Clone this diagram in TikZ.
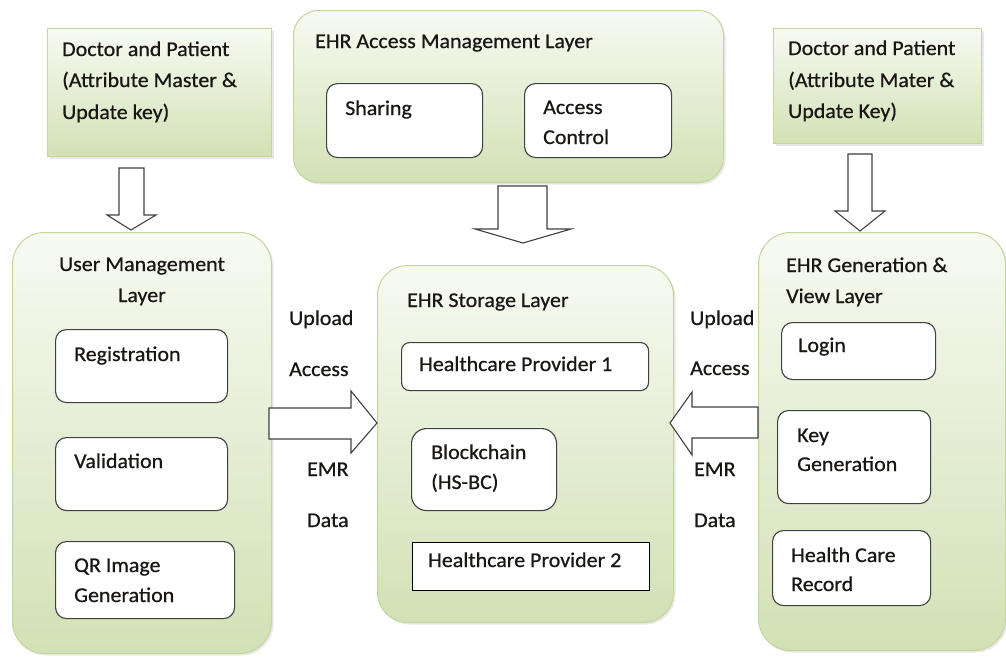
\documentclass[tikz,border=0pt]{standalone}
\usepackage{fontspec}
\setmainfont{Carlito}[FakeStretch=1.045, FakeBold=0.6]
\usetikzlibrary{shadows}
\definecolor{bordergreen}{RGB}{195,214,155}
\definecolor{topgreen}{RGB}{247,250,242}
\definecolor{botgreen}{RGB}{210,225,181}
\definecolor{edgegrey}{RGB}{64,64,64}
\definecolor{txt}{RGB}{25,22,20}
\tikzset{
  layer/.style={draw=bordergreen, line width=1pt, rounded corners=28pt,
    top color=topgreen, bottom color=botgreen, anchor=north west, inner sep=0pt,
    drop shadow={opacity=0.18, shadow xshift=2pt, shadow yshift=-2pt}},
  actor/.style={layer, rounded corners=0pt},
  inbox/.style={draw=edgegrey, fill=white, line width=1.1pt, rounded corners=11pt,
    anchor=north west, inner sep=0pt},
  lbl/.style={anchor=base west, inner sep=0pt, text=txt, font=\fontsize{21}{32}\selectfont},
  lblc/.style={lbl, anchor=base},
  blockarrow/.style={draw=edgegrey, fill=white, line width=1.1pt, line join=miter},
}
\begin{document}
\begin{tikzpicture}[x=1pt,y=-1pt]
\useasboundingbox (0,0) rectangle (1006,656);
\fill[white] (0,0) rectangle (1006,656);

% outer boxes
\node[actor, minimum width=224pt, minimum height=128pt] (dp1) at (47,28) {};
\node[actor, minimum width=208pt, minimum height=115pt] (dp2) at (773,28) {};
\node[layer, rounded corners=25pt, minimum width=430pt, minimum height=172pt] (aml) at (293,10) {};
\node[layer, rounded corners=32pt, minimum width=259pt, minimum height=421pt] (uml) at (12,232) {};
\node[layer, rounded corners=30pt, minimum width=296pt, minimum height=357pt] (sto) at (377,265) {};
\node[layer, rounded corners=32pt, minimum width=247pt, minimum height=418pt] (gen) at (758,232) {};

% inner boxes
\node[inbox, minimum width=156pt, minimum height=74pt] (share) at (326,83) {};
\node[inbox, minimum width=147pt, minimum height=74pt] (acc) at (524,83) {};
\node[inbox, minimum width=172pt, minimum height=73pt] (reg) at (55,329) {};
\node[inbox, minimum width=172pt, minimum height=73pt] (val) at (55,437) {};
\node[inbox, minimum width=179pt, minimum height=77pt] (qr) at (55,541) {};
\node[inbox, rounded corners=8pt, minimum width=247pt, minimum height=48pt] (hp1) at (401,342) {};
\node[inbox, rounded corners=15pt, minimum width=145pt, minimum height=82pt] (bc) at (411,428) {};
\node[inbox, draw=black, rounded corners=0pt, minimum width=237pt, minimum height=48pt] (hp2) at (412,542) {};
\node[inbox, minimum width=154pt, minimum height=57pt] (login) at (781,322) {};
\node[inbox, minimum width=153pt, minimum height=93pt] (keyg) at (777,410) {};
\node[inbox, minimum width=158pt, minimum height=75pt] (hcr) at (772,530) {};

% block arrows
\draw[blockarrow] (119,168) -- (144,168) -- (144,215) -- (156,215) -- (131,230)
  -- (107,215) -- (119,215) -- cycle;
\draw[blockarrow] (498,186) -- (547,186) -- (547,229) -- (571,229) -- (523,243)
  -- (475,229) -- (498,229) -- cycle;
\draw[blockarrow] (848,154) -- (872,154) -- (872,211) -- (885,211) -- (860,231)
  -- (835,211) -- (848,211) -- cycle;
\draw[blockarrow] (269,408) -- (351,408) -- (351,391) -- (377,423) -- (351,453)
  -- (351,439) -- (269,439) -- cycle;
\draw[blockarrow] (758,407) -- (692,407) -- (692,392) -- (670,423) -- (692,455)
  -- (692,438) -- (758,438) -- cycle;

% texts
\node[lbl] (dp1a) at (62,56) {Doctor and Patient};
\node[lbl] (dp1b) at (62,87) {(Attribute Master \&};
\node[lbl] (dp1c) at (62,119) {Update key)};

\node[lbl] (dp2a) at (788,55) {Doctor and Patient};
\node[lbl] (dp2b) at (788,87) {(Attribute Mater \&};
\node[lbl] (dp2c) at (788,118) {Update Key)};

\node[lbl] (amlt) at (315,48) {EHR Access Management Layer};
\node[lbl] (sharet) at (345,115) {Sharing};
\node[lbl] (acct1) at (543,114) {Access};
\node[lbl] (acct2) at (543,144) {Control};

\node[lblc] (umlt1) at (142,271) {User Management};
\node[lblc] (umlt2) at (142,302) {Layer};
\node[lbl] (regt) at (74,361) {Registration};
\node[lbl] (valt) at (74,468) {Validation};
\node[lbl] (qrt1) at (74,572) {QR Image};
\node[lbl] (qrt2) at (74,602) {Generation};

\node[lbl] (lup) at (289,325) {Upload};
\node[lbl] (lac) at (289,376) {Access};
\node[lbl] (lem) at (307,476) {EMR};
\node[lbl] (lda) at (307,527) {Data};

\node[lbl] (stot) at (407,307) {EHR Storage Layer};
\node[lbl] (hp1t) at (419,371) {Healthcare Provider 1};
\node[lbl] (bct1) at (431,459) {Blockchain};
\node[lbl] (bct2) at (431,489) {(HS-BC)};
\node[lbl] (hp2t) at (428,567) {Healthcare Provider 2};

\node[lbl] (rup) at (690,325) {Upload};
\node[lbl] (rac) at (690,375) {Access};
\node[lbl] (rem) at (694,476) {EMR};
\node[lbl] (rda) at (694,527) {Data};

\node[lbl] (gent1) at (786,272) {EHR Generation \&};
\node[lbl] (gent2) at (786,303) {View Layer};
\node[lbl] (logint) at (798,352) {Login};
\node[lbl] (keyt1) at (797,442) {Key};
\node[lbl] (keyt2) at (797,471) {Generation};
\node[lbl] (hcrt1) at (791,562) {Health Care};
\node[lbl] (hcrt2) at (791,591) {Record};
\end{tikzpicture}
\end{document}
